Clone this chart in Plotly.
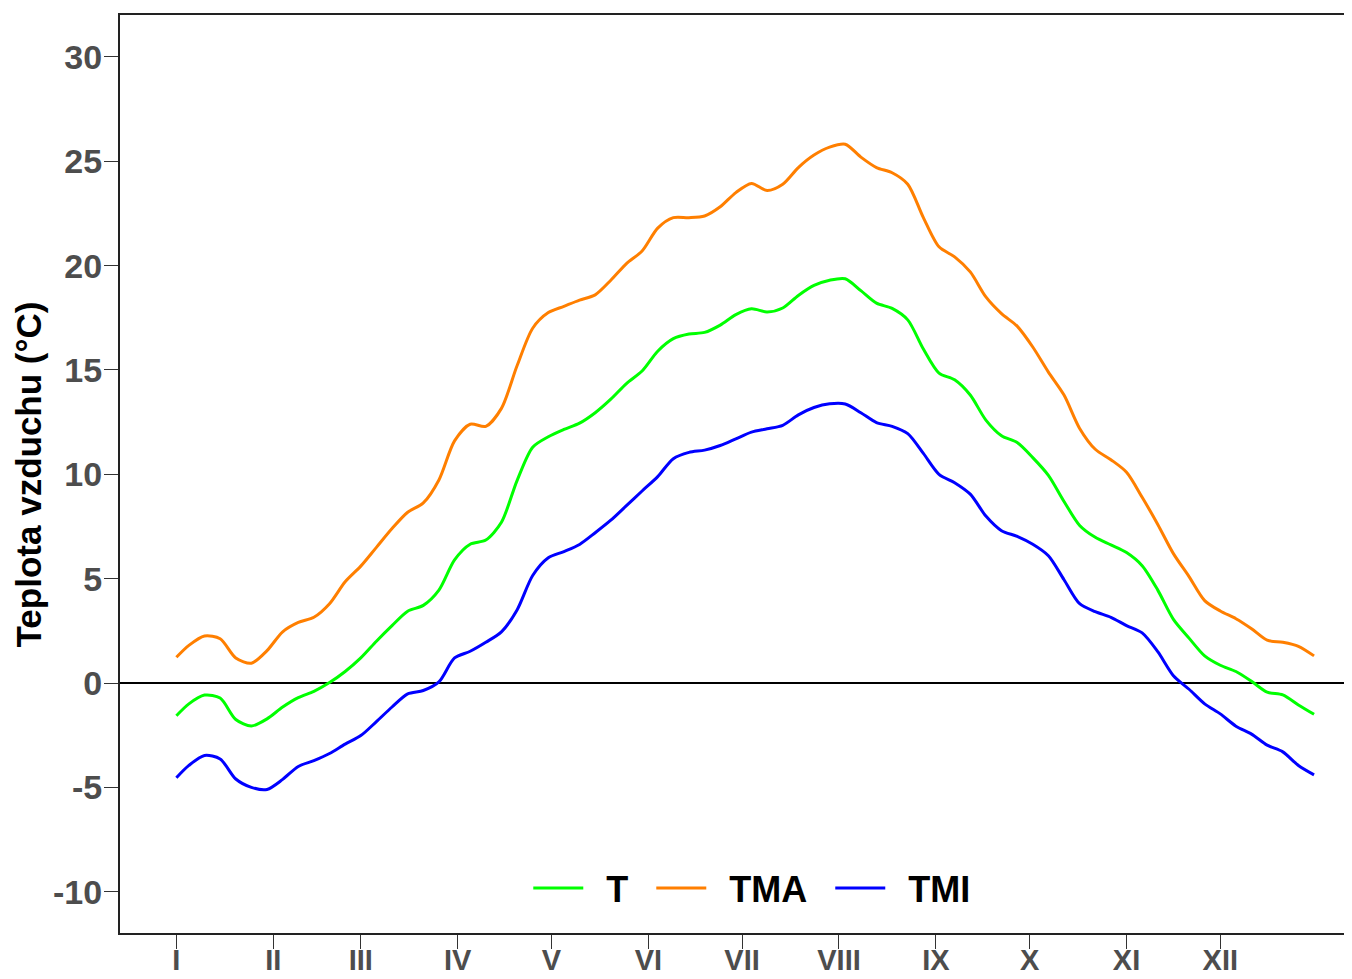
import plotly.graph_objects as go

# day of year
days = [1] + list(range(5, 366, 5))

# daily mean air temperature T (°C)
t_mean = [-1.57, -1.0, -0.58, -0.72, -1.75, -2.06, -1.72, -1.15, -0.70, -0.40,
          0.02, 0.55, 1.2, 2.0, 2.75, 3.44, 3.72, 4.45, 5.9, 6.65,
          6.85, 7.7, 9.7, 11.3, 11.8, 12.15, 12.45, 12.95, 13.6, 14.35,
          14.95, 15.9, 16.5, 16.72, 16.8, 17.15, 17.65, 17.93, 17.78, 17.97,
          18.57, 19.05, 19.3, 19.37, 18.8, 18.2, 17.95, 17.4, 16.0, 14.85,
          14.53, 13.8, 12.6, 11.85, 11.52, 10.8, 9.95, 8.7, 7.55, 6.98,
          6.62, 6.25, 5.62, 4.45, 3.05, 2.15, 1.3, 0.85, 0.55, 0.08,
          -0.44, -0.57, -1.05, -1.5]

# daily maximum TMA (°C)
t_max = [1.23, 1.80, 2.25, 2.12, 1.20, 0.95, 1.55, 2.45, 2.90, 3.15,
         3.80, 4.85, 5.60, 6.50, 7.40, 8.18, 8.63, 9.73, 11.60, 12.40,
         12.30, 13.16, 15.2, 17.0, 17.75, 18.05, 18.35, 18.6, 19.3, 20.1,
         20.7, 21.8, 22.3, 22.3, 22.38, 22.82, 23.5, 23.94, 23.6, 23.9,
         24.7, 25.3, 25.68, 25.82, 25.2, 24.7, 24.45, 23.9, 22.3, 20.9,
         20.42, 19.7, 18.5, 17.7, 17.1, 16.1, 14.9, 13.8, 12.2, 11.2,
         10.7, 10.1, 8.9, 7.6, 6.2, 5.1, 3.95, 3.45, 3.08, 2.6,
         2.05, 1.95, 1.76, 1.3]

# daily minimum TMI (°C)
t_min = [-4.54, -3.95, -3.47, -3.64, -4.6, -5.0, -5.1, -4.62, -4.0, -3.72,
         -3.38, -2.93, -2.52, -1.85, -1.15, -0.52, -0.36, 0.05, 1.2, 1.52,
         1.95, 2.45, 3.5, 5.15, 6.0, 6.3, 6.64, 7.2, 7.8, 8.5,
         9.2, 9.89, 10.75, 11.05, 11.16, 11.38, 11.7, 12.02, 12.18, 12.35,
         12.85, 13.2, 13.38, 13.37, 12.95, 12.48, 12.3, 11.95, 11.0, 10.0,
         9.6, 9.05, 8.0, 7.3, 7.03, 6.65, 6.1, 4.95, 3.8, 3.42,
         3.15, 2.75, 2.4, 1.5, 0.35, -0.3, -1.0, -1.48, -2.07, -2.45,
         -2.98, -3.3, -3.95, -4.4]

month_start = [1, 32, 60, 91, 121, 152, 182, 213, 244, 274, 305, 335]
month_labels = ["I", "II", "III", "IV", "V", "VI", "VII", "VIII", "IX", "X", "XI", "XII"]
y_ticks = [-10, -5, 0, 5, 10, 15, 20, 25, 30]
y_labels = ["-10", "-5", "0", "5", "10", "15", "20", "25", "30"]

series_names = ["T", "TMA", "TMI"]
series_values = [t_mean, t_max, t_min]
series_colors = ["#00FF00", "#FF7F00", "#0000FF"]

fig = go.Figure()
for i, (name, vals, col) in enumerate(zip(series_names, series_values, series_colors)):
    label = "\u2002" + name + ("\u2002" if i < len(series_names) - 1 else "")
    fig.add_trace(go.Scatter(x=days, y=vals, mode="lines", name=label,
                             line=dict(color=col, width=3, shape="spline", smoothing=0.8)))

fig.add_annotation(text="Teplota vzduchu (°C)", xref="paper", yref="paper",
                   x=(29 - 120) / 1232, y=0.5, xanchor="center", yanchor="middle",
                   textangle=-90, showarrow=False,
                   font=dict(size=35, color="black", weight="bold"))

font_family = "Liberation Sans, Arial, sans-serif"
fig.update_layout(
    width=1352, height=979,
    margin=dict(l=112, r=0, t=7, b=54),
    paper_bgcolor="white", plot_bgcolor="white",
    font=dict(family=font_family),
    showlegend=True,
    legend=dict(orientation="h", x=0.5095, y=0.049, xanchor="center", yanchor="middle",
                bgcolor="rgba(0,0,0,0)", font=dict(size=36, color="black", weight="bold"),
                itemwidth=50, traceorder="normal"),
    xaxis=dict(range=[-17.04, 379.7], tickmode="array", tickvals=month_start,
               ticktext=month_labels, showgrid=False, zeroline=False,
               showline=True, linecolor="#222", linewidth=2, mirror=True,
               ticks="outside", ticklen=14, tickcolor="#333", tickwidth=1,
               tickfont=dict(size=29, color="#4d4d4d", weight="bold"),
               ticklabelstandoff=-14,
               automargin=False),
    yaxis=dict(range=[-11.98, 32.01], tickmode="array", tickvals=y_ticks,
               ticktext=y_labels,
               showgrid=False, zeroline=True, zerolinecolor="black", zerolinewidth=2,
               showline=True, linecolor="#222", linewidth=2, mirror=True,
               ticks="outside", ticklen=14, tickcolor="#333", tickwidth=1,
               tickfont=dict(size=34, color="#4d4d4d", weight="bold"),
               ticklabelstandoff=-5,
               automargin=False),
)

fig.write_html("out.html")
